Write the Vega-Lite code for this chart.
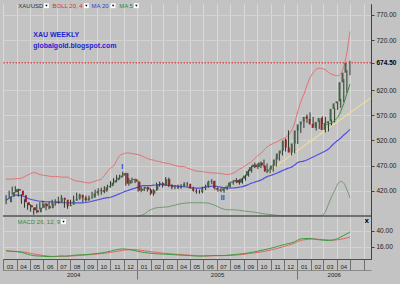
{
"$schema": "https://vega.github.io/schema/vega-lite/v6.json",
"width": 368, "height": 255,
"autosize": {"type": "none"},
"padding": {"left": 3, "top": 4, "right": 29, "bottom": 25},
"background": "#c3c3c3",
"config": {"view": {"stroke": null, "fill": "#c3c3c3"}, "axis": {"labelFont": "Liberation Sans", "labelColor": "#222"}, "text": {"font": "Liberation Sans"}},
"resolve": {"scale": {"x": "independent", "y": "independent"}, "axis": {"x": "independent", "y": "independent"}},
"data": {"values": [
{"d":"2004-03-08","o":397,"h":411,"l":393,"c":408,"ub":443,"ma":401,"m":9.8,"s":9.8},
{"d":"2004-03-15","o":408,"h":420,"l":405,"c":417,"ub":443,"ma":405,"m":9.2,"s":9.5},
{"d":"2004-03-22","o":417,"h":428,"l":412,"c":423,"ub":443,"ma":409,"m":8.8,"s":9.2},
{"d":"2004-03-29","o":423,"h":429,"l":416,"c":420,"ub":444,"ma":411,"m":8.5,"s":8.9},
{"d":"2004-04-05","o":420,"h":424,"l":408,"c":411,"ub":444,"ma":411,"m":8.0,"s":8.6},
{"d":"2004-04-12","o":411,"h":413,"l":394,"c":397,"ub":445,"ma":410,"m":7.3,"s":8.2},
{"d":"2004-04-19","o":397,"h":403,"l":386,"c":391,"ub":448,"ma":408,"m":6.0,"s":7.6},
{"d":"2004-04-26","o":391,"h":396,"l":382,"c":387,"ub":451,"ma":405,"m":4.5,"s":6.9},
{"d":"2004-05-03","o":387,"h":393,"l":378,"c":381,"ub":454,"ma":403,"m":3.2,"s":6.0},
{"d":"2004-05-10","o":381,"h":386,"l":372,"c":377,"ub":456,"ma":401.5,"m":2.4,"s":5.0},
{"d":"2004-05-17","o":377,"h":393,"l":375,"c":386,"ub":455,"ma":400,"m":2.0,"s":4.2},
{"d":"2004-05-24","o":386,"h":397,"l":383,"c":394,"ub":452,"ma":399,"m":1.8,"s":3.4},
{"d":"2004-05-31","o":394,"h":400,"l":385,"c":389,"ub":451,"ma":398.5,"m":1.4,"s":2.6},
{"d":"2004-06-07","o":389,"h":396,"l":381,"c":385,"ub":450,"ma":398,"m":1.1,"s":2.0},
{"d":"2004-06-14","o":385,"h":398,"l":383,"c":395,"ub":449,"ma":398,"m":1.0,"s":1.5},
{"d":"2004-06-21","o":395,"h":402,"l":391,"c":399,"ub":448,"ma":397.5,"m":1.0,"s":1.2},
{"d":"2004-06-28","o":399,"h":403,"l":390,"c":396,"ub":448,"ma":397,"m":1.3,"s":1.1},
{"d":"2004-07-05","o":396,"h":408,"l":394,"c":406,"ub":448,"ma":396.5,"m":1.6,"s":1.2},
{"d":"2004-07-12","o":406,"h":411,"l":398,"c":402,"ub":447,"ma":396,"m":1.9,"s":1.4},
{"d":"2004-07-19","o":402,"h":403,"l":386,"c":389,"ub":447,"ma":396,"m":1.6,"s":1.5},
{"d":"2004-07-26","o":389,"h":395,"l":384,"c":392,"ub":447,"ma":396,"m":1.8,"s":1.6},
{"d":"2004-08-02","o":392,"h":402,"l":390,"c":400,"ub":444,"ma":395.8,"m":2.3,"s":1.8},
{"d":"2004-08-09","o":400,"h":410,"l":394,"c":404,"ub":441,"ma":395.6,"m":2.8,"s":2.1},
{"d":"2004-08-16","o":404,"h":416,"l":401,"c":412,"ub":439,"ma":395.6,"m":3.3,"s":2.5},
{"d":"2004-08-23","o":412,"h":414,"l":402,"c":406,"ub":438.6,"ma":395.6,"m":3.5,"s":2.9},
{"d":"2004-08-30","o":406,"h":408,"l":397,"c":401,"ub":437.5,"ma":395.8,"m":3.7,"s":3.2},
{"d":"2004-09-06","o":401,"h":410,"l":398,"c":405,"ub":436,"ma":396.5,"m":4.0,"s":3.5},
{"d":"2004-09-13","o":405,"h":410,"l":400,"c":406,"ub":435.4,"ma":397.5,"m":4.3,"s":3.8},
{"d":"2004-09-20","o":406,"h":418,"l":404,"c":415,"ub":437,"ma":399,"m":4.8,"s":4.1},
{"d":"2004-09-27","o":415,"h":422,"l":408,"c":419,"ub":439,"ma":400.5,"m":5.3,"s":4.5},
{"d":"2004-10-04","o":419,"h":425,"l":410,"c":421,"ub":441,"ma":402,"m":5.9,"s":5.0},
{"d":"2004-10-11","o":421,"h":426,"l":412,"c":418,"ub":443,"ma":403.5,"m":6.4,"s":5.5},
{"d":"2004-10-18","o":418,"h":429,"l":415,"c":427,"ub":450,"ma":405,"m":7.2,"s":6.0},
{"d":"2004-10-25","o":427,"h":432,"l":421,"c":429,"ub":458,"ma":406,"m":8.2,"s":6.6},
{"d":"2004-11-01","o":429,"h":439,"l":426,"c":436,"ub":465,"ma":407,"m":9.3,"s":7.3},
{"d":"2004-11-08","o":436,"h":445,"l":432,"c":441,"ub":469,"ma":409,"m":10.3,"s":8.0},
{"d":"2004-11-15","o":441,"h":451,"l":437,"c":446,"ub":480,"ma":411.5,"m":11.3,"s":8.8},
{"d":"2004-11-22","o":446,"h":452,"l":443,"c":450,"ub":490,"ma":414,"m":12.1,"s":9.6},
{"d":"2004-11-29","o":450,"h":458,"l":447,"c":455,"ub":493,"ma":416.5,"m":12.6,"s":10.4},
{"d":"2004-12-06","o":455,"h":456,"l":430,"c":434,"ub":495,"ma":419,"m":12.2,"s":11.0},
{"d":"2004-12-13","o":434,"h":445,"l":430,"c":441,"ub":495,"ma":421,"m":11.7,"s":11.4},
{"d":"2004-12-20","o":441,"h":446,"l":435,"c":443,"ub":494,"ma":423,"m":10.8,"s":11.5},
{"d":"2004-12-27","o":443,"h":444,"l":435,"c":438,"ub":493,"ma":425,"m":10.0,"s":11.3},
{"d":"2005-01-03","o":438,"h":440,"l":418,"c":420,"ub":492,"ma":427,"m":8.8,"s":11.0,"ind":369},
{"d":"2005-01-10","o":420,"h":428,"l":417,"c":424,"ub":490,"ma":429.5,"m":7.9,"s":10.4,"ind":371},
{"d":"2005-01-17","o":424,"h":428,"l":419,"c":427,"ub":487,"ma":430,"m":7.2,"s":9.7,"ind":373},
{"d":"2005-01-24","o":427,"h":428,"l":418,"c":422,"ub":484,"ma":430,"m":6.6,"s":9.1,"ind":378},
{"d":"2005-01-31","o":422,"h":425,"l":411,"c":414,"ub":482,"ma":430,"m":6.0,"s":8.4,"ind":382},
{"d":"2005-02-07","o":414,"h":423,"l":410,"c":421,"ub":481,"ma":431,"m":5.6,"s":7.9,"ind":384},
{"d":"2005-02-14","o":421,"h":436,"l":420,"c":433,"ub":479,"ma":431.5,"m":5.2,"s":7.4,"ind":386},
{"d":"2005-02-21","o":433,"h":438,"l":428,"c":435,"ub":478,"ma":432,"m":4.9,"s":6.8,"ind":386.5},
{"d":"2005-02-28","o":435,"h":437,"l":426,"c":431,"ub":476,"ma":432,"m":4.7,"s":6.2,"ind":387},
{"d":"2005-03-07","o":431,"h":447,"l":430,"c":443,"ub":475,"ma":431,"m":4.6,"s":5.8,"ind":387.5},
{"d":"2005-03-14","o":443,"h":446,"l":427,"c":430,"ub":474,"ma":430.5,"m":4.3,"s":5.4,"ind":388},
{"d":"2005-03-21","o":430,"h":433,"l":423,"c":427,"ub":472,"ma":430,"m":4.0,"s":5.0,"ind":390},
{"d":"2005-03-28","o":427,"h":431,"l":423,"c":428,"ub":470,"ma":429.5,"m":3.7,"s":4.7,"ind":391},
{"d":"2005-04-04","o":428,"h":432,"l":423,"c":426,"ub":469,"ma":429,"m":3.4,"s":4.3,"ind":393},
{"d":"2005-04-11","o":426,"h":433,"l":424,"c":429,"ub":468,"ma":428.5,"m":3.2,"s":3.9,"ind":394},
{"d":"2005-04-18","o":429,"h":437,"l":428,"c":434,"ub":468,"ma":428,"m":3.0,"s":3.6,"ind":395},
{"d":"2005-04-25","o":434,"h":437,"l":428,"c":433,"ub":465,"ma":427,"m":2.7,"s":3.3,"ind":395.5},
{"d":"2005-05-02","o":433,"h":434,"l":424,"c":425,"ub":463,"ma":426,"m":2.4,"s":3.0,"ind":396},
{"d":"2005-05-09","o":425,"h":428,"l":418,"c":420,"ub":461,"ma":425.5,"m":2.0,"s":2.7,"ind":396},
{"d":"2005-05-16","o":420,"h":424,"l":414,"c":418,"ub":459,"ma":425,"m":1.8,"s":2.4,"ind":396},
{"d":"2005-05-23","o":418,"h":422,"l":414,"c":417,"ub":458.5,"ma":425,"m":1.7,"s":2.1,"ind":396},
{"d":"2005-05-30","o":417,"h":428,"l":415,"c":425,"ub":458,"ma":426,"m":1.8,"s":2.0,"ind":396},
{"d":"2005-06-06","o":425,"h":432,"l":421,"c":428,"ub":457,"ma":427,"m":2.0,"s":1.9,"ind":395.5},
{"d":"2005-06-13","o":428,"h":440,"l":426,"c":438,"ub":456,"ma":428,"m":2.3,"s":2.0,"ind":395},
{"d":"2005-06-20","o":438,"h":443,"l":433,"c":439,"ub":455.5,"ma":429,"m":2.6,"s":2.1,"ind":393},
{"d":"2005-06-27","o":439,"h":440,"l":422,"c":425,"ub":455,"ma":429,"m":2.6,"s":2.3,"ind":391},
{"d":"2005-07-04","o":425,"h":427,"l":418,"c":422,"ub":455,"ma":428,"m":2.5,"s":2.4,"ind":388},
{"d":"2005-07-11","o":422,"h":426,"l":417,"c":420,"ub":454,"ma":427,"m":2.5,"s":2.4,"ind":385},
{"d":"2005-07-18","o":420,"h":426,"l":416,"c":424,"ub":453,"ma":426,"m":2.6,"s":2.5,"ind":383},
{"d":"2005-07-25","o":424,"h":430,"l":421,"c":428,"ub":452,"ma":425.5,"m":2.9,"s":2.6,"ind":382},
{"d":"2005-08-01","o":428,"h":438,"l":426,"c":436,"ub":453,"ma":425,"m":3.3,"s":2.8,"ind":382},
{"d":"2005-08-08","o":436,"h":441,"l":432,"c":438,"ub":455,"ma":425.5,"m":3.8,"s":3.0,"ind":382},
{"d":"2005-08-15","o":438,"h":445,"l":435,"c":441,"ub":458,"ma":426,"m":4.3,"s":3.3,"ind":381.5},
{"d":"2005-08-22","o":441,"h":443,"l":432,"c":436,"ub":463,"ma":427,"m":4.8,"s":3.7,"ind":381},
{"d":"2005-08-29","o":436,"h":446,"l":434,"c":444,"ub":466,"ma":428,"m":5.3,"s":4.1,"ind":380},
{"d":"2005-09-05","o":444,"h":452,"l":440,"c":450,"ub":470,"ma":430,"m":5.9,"s":4.6,"ind":379},
{"d":"2005-09-12","o":450,"h":462,"l":448,"c":459,"ub":474,"ma":432.5,"m":6.6,"s":5.5,"ind":378.5},
{"d":"2005-09-19","o":459,"h":470,"l":456,"c":467,"ub":478,"ma":435,"m":7.4,"s":6.0,"ind":378},
{"d":"2005-09-26","o":467,"h":476,"l":465,"c":472,"ub":484,"ma":437,"m":8.2,"s":6.6,"ind":377},
{"d":"2005-10-03","o":472,"h":474,"l":463,"c":467,"ub":490,"ma":439,"m":9.2,"s":7.2,"ind":376},
{"d":"2005-10-10","o":467,"h":478,"l":465,"c":476,"ub":494,"ma":441,"m":10.2,"s":8.0,"ind":375},
{"d":"2005-10-17","o":476,"h":482,"l":466,"c":470,"ub":501,"ma":444.5,"m":11.2,"s":8.8,"ind":374},
{"d":"2005-10-24","o":470,"h":474,"l":455,"c":458,"ub":507,"ma":448,"m":12.2,"s":9.7,"ind":373},
{"d":"2005-10-31","o":458,"h":466,"l":455,"c":462,"ub":511,"ma":450,"m":13.3,"s":10.6,"ind":372.5},
{"d":"2005-11-07","o":462,"h":472,"l":458,"c":470,"ub":514,"ma":452,"m":14.5,"s":11.7,"ind":372},
{"d":"2005-11-14","o":470,"h":486,"l":468,"c":482,"ub":517,"ma":454.5,"m":15.7,"s":12.9,"ind":371},
{"d":"2005-11-21","o":482,"h":498,"l":480,"c":494,"ub":520,"ma":457,"m":17.2,"s":14.2,"ind":370.5},
{"d":"2005-11-28","o":494,"h":504,"l":490,"c":500,"ub":523,"ma":460,"m":18.5,"s":15.6,"ind":370},
{"d":"2005-12-05","o":500,"h":524,"l":498,"c":520,"ub":526,"ma":462.5,"m":19.6,"s":16.9,"ind":370},
{"d":"2005-12-12","o":522,"h":540,"l":502,"c":506,"ub":531,"ma":465,"m":20.7,"s":18.3,"ind":370},
{"d":"2005-12-19","o":506,"h":508,"l":490,"c":496,"ub":540,"ma":467,"m":21.7,"s":19.7,"ind":370},
{"d":"2005-12-26","o":496,"h":518,"l":494,"c":514,"ub":555,"ma":471,"m":23.5,"s":21.3,"ind":370},
{"d":"2006-01-02","o":514,"h":542,"l":513,"c":540,"ub":578,"ma":476,"m":26.0,"s":23.8,"ind":370},
{"d":"2006-01-09","o":540,"h":555,"l":535,"c":552,"ub":597,"ma":478,"m":27.7,"s":25.4,"ind":370},
{"d":"2006-01-16","o":552,"h":562,"l":545,"c":558,"ub":612,"ma":479,"m":28.2,"s":26.4,"ind":370},
{"d":"2006-01-23","o":558,"h":572,"l":555,"c":567,"ub":630,"ma":481,"m":28.4,"s":27.0,"ind":370},
{"d":"2006-01-30","o":568,"h":576,"l":559,"c":563,"ub":645,"ma":484,"m":28.3,"s":27.5,"ind":370},
{"d":"2006-02-06","o":563,"h":567,"l":548,"c":552,"ub":655,"ma":487,"m":27.8,"s":27.6,"ind":370},
{"d":"2006-02-13","o":553,"h":556,"l":540,"c":545,"ub":662,"ma":490,"m":27.0,"s":27.4,"ind":370},
{"d":"2006-02-20","o":545,"h":560,"l":543,"c":557,"ub":664,"ma":493,"m":26.4,"s":27.1,"ind":370},
{"d":"2006-02-27","o":557,"h":568,"l":553,"c":565,"ub":663,"ma":496,"m":25.9,"s":26.8,"ind":371},
{"d":"2006-03-06","o":565,"h":567,"l":536,"c":541,"ub":661,"ma":499,"m":25.5,"s":26.5,"ind":378,"ma5":552},
{"d":"2006-03-13","o":541,"h":558,"l":538,"c":555,"ub":656,"ma":503,"m":25.3,"s":26.2,"ind":393,"ma5":553},
{"d":"2006-03-20","o":555,"h":562,"l":550,"c":558,"ub":652,"ma":509,"m":25.6,"s":26.0,"ind":408,"ma5":555},
{"d":"2006-03-27","o":558,"h":585,"l":556,"c":583,"ub":650,"ma":515,"m":26.6,"s":26.0,"ind":420,"ma5":560},
{"d":"2006-04-03","o":583,"h":597,"l":581,"c":594,"ub":649,"ma":520,"m":28.3,"s":26.4,"ind":433,"ma5":566},
{"d":"2006-04-10","o":594,"h":603,"l":585,"c":598,"ub":652,"ma":525,"m":30.6,"s":27.2,"ind":438.6,"ma5":578},
{"d":"2006-04-17","o":598,"h":642,"l":596,"c":636,"ub":668,"ma":531,"m":33.0,"s":28.1,"ind":435,"ma5":594},
{"d":"2006-04-24","o":636,"h":660,"l":615,"c":655,"ub":695,"ma":536,"m":35.6,"s":29.3,"ind":422,"ma5":613},
{"d":"2006-05-01","o":655,"h":679,"l":650,"c":674.5,"ub":737,"ma":542,"m":38.2,"s":30.6,"ind":406,"ma5":632}
]},
"layer": [
{"mark": {"type": "line", "color": "#6f9a6f", "strokeWidth": 1, "clip": true, "interpolate": "monotone"},
 "encoding": {"x": {"field": "d", "type": "temporal", "scale": {"type": "utc", "domain": [{"year": 2004, "month": 3, "date": 1, "utc": true}, {"year": 2006, "month": 6, "date": 18, "utc": true}], "nice": false}, "axis": null},
  "y": {"field": "ind", "type": "quantitative", "scale": {"domain": [283.9, 791.9], "nice": false, "zero": false}, "axis": null}}},
{"data": {"values": [{"d": "2005-10-24", "p": 456}, {"d": "2006-06-18", "p": 605}]},
 "mark": {"type": "line", "color": "#e8de98", "strokeWidth": 1.2, "clip": true},
 "encoding": {"x": {"field": "d", "type": "temporal", "scale": {"type": "utc", "domain": [{"year": 2004, "month": 3, "date": 1, "utc": true}, {"year": 2006, "month": 6, "date": 18, "utc": true}], "nice": false},
   "axis": {"orient": "bottom", "offset": 11, "title": null, "values": [{"year": 2004, "month": 8, "date": 8, "utc": true}, {"year": 2005, "month": 1, "date": 1, "utc": true}, {"year": 2005, "month": 7, "date": 2, "utc": true}, {"year": 2006, "month": 1, "date": 1, "utc": true}, {"year": 2006, "month": 3, "date": 25, "utc": true}],
    "labelExpr": "utcmonth(datum.value) == 0 ? '' : utcFormat(datum.value, '%Y')", "labelPadding": -8, "labelFontSize": 6, "labelBaseline": "top", "tickSize": 9, "tickColor": "#707070",
    "tickOpacity": {"condition": {"test": "utcmonth(datum.value) == 0", "value": 1}, "value": 0}, "domainColor": "#8a8a8a", "grid": false, "labelOverlap": false, "labelBound": false, "labelFlush": false}},
  "y": {"field": "p", "type": "quantitative", "scale": {"domain": [283.9, 791.9], "nice": false, "zero": false}, "axis": null}}},
{"mark": {"type": "line", "color": "#e27272", "strokeWidth": 1, "clip": true, "interpolate": "monotone"},
 "encoding": {"x": {"field": "d", "type": "temporal", "scale": {"type": "utc", "domain": [{"year": 2004, "month": 3, "date": 1, "utc": true}, {"year": 2006, "month": 6, "date": 18, "utc": true}], "nice": false}, "axis": null},
  "y": {"field": "ub", "type": "quantitative", "scale": {"domain": [283.9, 791.9], "nice": false, "zero": false}, "axis": null}}},
{"mark": {"type": "line", "color": "#5252e0", "strokeWidth": 1.2, "clip": true, "interpolate": "monotone"},
 "encoding": {"x": {"field": "d", "type": "temporal", "scale": {"type": "utc", "domain": [{"year": 2004, "month": 3, "date": 1, "utc": true}, {"year": 2006, "month": 6, "date": 18, "utc": true}], "nice": false}, "axis": null},
  "y": {"field": "ma", "type": "quantitative", "scale": {"domain": [283.9, 791.9], "nice": false, "zero": false}, "axis": null}}},
{"mark": {"type": "rule", "color": "#2c382c", "strokeWidth": 1, "clip": true},
 "encoding": {"x": {"field": "d", "type": "temporal", "scale": {"type": "utc", "domain": [{"year": 2004, "month": 3, "date": 1, "utc": true}, {"year": 2006, "month": 6, "date": 18, "utc": true}], "nice": false},
   "axis": {"orient": "bottom", "title": null, "tickCount": {"interval": "month", "step": 1}, "labelExpr": "datum.value >= utc(2006,4,1) ? '' : utcFormat(datum.value, '%m')", "labelAlign": "center", "labelBaseline": "top", "labelOffset": 6.5, "labelPadding": -7, "labelFontSize": 6, "labelOverlap": false, "labelFlush": false, "labelBound": false, "tickSize": 11, "tickColor": "#707070", "domainColor": "#505050", "grid": true, "gridColor": "#d9d9d9", "gridWidth": 1}},
  "y": {"field": "l", "type": "quantitative", "scale": {"domain": [283.9, 791.9], "nice": false, "zero": false},
   "axis": {"orient": "right", "title": null, "values": [420, 470, 520, 570, 620, 674.5, 720, 770], "format": ".2f", "tickSize": 3, "labelPadding": 2, "labelFontSize": 6.5, "labelBaseline": "middle",
    "labelColor": {"condition": {"test": "datum.value == 674.5", "value": "#000000"}, "value": "#222222"},
    "labelFontWeight": {"condition": {"test": "datum.value == 674.5", "value": "bold"}, "value": "normal"},
    "tickColor": "#444444", "domainColor": "#404040", "grid": true, "gridColor": "#d3d3d3"}},
  "y2": {"field": "h"}}},
{"mark": {"type": "bar", "size": 2, "clip": true},
 "encoding": {"x": {"field": "d", "type": "temporal", "scale": {"type": "utc", "domain": [{"year": 2004, "month": 3, "date": 1, "utc": true}, {"year": 2006, "month": 6, "date": 18, "utc": true}], "nice": false}, "axis": null},
  "y": {"field": "o", "type": "quantitative", "scale": {"domain": [283.9, 791.9], "nice": false, "zero": false}, "axis": null},
  "y2": {"field": "c"},
  "color": {"condition": {"test": "datum.c >= datum.o", "value": "#46634a"}, "value": "#8e2424"}}},
{"mark": {"type": "line", "color": "#2f8f2f", "strokeWidth": 1, "clip": true, "interpolate": "monotone"},
 "encoding": {"x": {"field": "d", "type": "temporal", "scale": {"type": "utc", "domain": [{"year": 2004, "month": 3, "date": 1, "utc": true}, {"year": 2006, "month": 6, "date": 18, "utc": true}], "nice": false}, "axis": null},
  "y": {"field": "ma5", "type": "quantitative", "scale": {"domain": [283.9, 791.9], "nice": false, "zero": false}, "axis": null}}},
{"data": {"values": [{}]},
 "mark": {"type": "rule", "color": "#e03030", "strokeDash": [1.5, 1.5], "strokeWidth": 1.2},
 "encoding": {"y": {"datum": 674.5, "type": "quantitative", "scale": {"domain": [283.9, 791.9], "nice": false, "zero": false}, "axis": null}}},
{"data": {"values": [{}]},
 "mark": {"type": "rule", "color": "#555555", "strokeWidth": 1.5},
 "encoding": {"y": {"datum": 369.6, "type": "quantitative", "scale": {"domain": [283.9, 791.9], "nice": false, "zero": false}, "axis": null}}},
{"mark": {"type": "line", "color": "#e26464", "strokeWidth": 1, "clip": true, "interpolate": "monotone"},
 "encoding": {"x": {"field": "d", "type": "temporal", "scale": {"type": "utc", "domain": [{"year": 2004, "month": 3, "date": 1, "utc": true}, {"year": 2006, "month": 6, "date": 18, "utc": true}], "nice": false}, "axis": null},
  "y": {"field": "s", "type": "quantitative", "scale": {"domain": [-2.7, 383.6], "nice": false, "zero": false},
   "axis": {"orient": "right", "title": null, "values": [16, 40], "format": ".2f", "tickSize": 3, "labelPadding": 2, "labelFontSize": 6.5, "labelBaseline": "middle", "tickColor": "#444444", "domainColor": "#404040", "grid": true, "gridColor": "#d3d3d3"}}}},
{"mark": {"type": "line", "color": "#3f9a3f", "strokeWidth": 1, "clip": true, "interpolate": "monotone"},
 "encoding": {"x": {"field": "d", "type": "temporal", "scale": {"type": "utc", "domain": [{"year": 2004, "month": 3, "date": 1, "utc": true}, {"year": 2006, "month": 6, "date": 18, "utc": true}], "nice": false}, "axis": null},
  "y": {"field": "m", "type": "quantitative", "scale": {"domain": [-2.7, 383.6], "nice": false, "zero": false}, "axis": null}}},
{"data": {"values": [{}]},
 "mark": {"type": "text", "align": "left", "baseline": "middle", "fontSize": 6, "color": "#333333", "text": "XAUUSD"},
 "encoding": {"x": {"datum": {"year": 2004, "month": 4, "date": 5, "utc": true}, "type": "temporal", "scale": {"type": "utc", "domain": [{"year": 2004, "month": 3, "date": 1, "utc": true}, {"year": 2006, "month": 6, "date": 18, "utc": true}], "nice": false}, "axis": null},
  "y": {"datum": 788.5, "type": "quantitative", "scale": {"domain": [283.9, 791.9], "nice": false, "zero": false}, "axis": null}}},
{"data": {"values": [{}]},
 "mark": {"type": "text", "align": "left", "baseline": "middle", "fontSize": 6, "color": "#d83030", "text": "BOLL 20, 4"},
 "encoding": {"x": {"datum": {"year": 2004, "month": 6, "date": 22, "utc": true}, "type": "temporal", "scale": {"type": "utc", "domain": [{"year": 2004, "month": 3, "date": 1, "utc": true}, {"year": 2006, "month": 6, "date": 18, "utc": true}], "nice": false}, "axis": null},
  "y": {"datum": 788.5, "type": "quantitative", "scale": {"domain": [283.9, 791.9], "nice": false, "zero": false}, "axis": null}}},
{"data": {"values": [{}]},
 "mark": {"type": "text", "align": "left", "baseline": "middle", "fontSize": 6, "color": "#3a3ad0", "text": "MA 20"},
 "encoding": {"x": {"datum": {"year": 2004, "month": 9, "date": 19, "utc": true}, "type": "temporal", "scale": {"type": "utc", "domain": [{"year": 2004, "month": 3, "date": 1, "utc": true}, {"year": 2006, "month": 6, "date": 18, "utc": true}], "nice": false}, "axis": null},
  "y": {"datum": 788.5, "type": "quantitative", "scale": {"domain": [283.9, 791.9], "nice": false, "zero": false}, "axis": null}}},
{"data": {"values": [{}]},
 "mark": {"type": "text", "align": "left", "baseline": "middle", "fontSize": 6, "color": "#2a8a2a", "text": "MA 5"},
 "encoding": {"x": {"datum": {"year": 2004, "month": 11, "date": 21, "utc": true}, "type": "temporal", "scale": {"type": "utc", "domain": [{"year": 2004, "month": 3, "date": 1, "utc": true}, {"year": 2006, "month": 6, "date": 18, "utc": true}], "nice": false}, "axis": null},
  "y": {"datum": 788.5, "type": "quantitative", "scale": {"domain": [283.9, 791.9], "nice": false, "zero": false}, "axis": null}}},
{"data": {"values": [{}]},
 "mark": {"type": "text", "align": "left", "baseline": "middle", "fontSize": 7, "fontWeight": "bold", "color": "#2424d4", "text": "XAU WEEKLY"},
 "encoding": {"x": {"datum": {"year": 2004, "month": 5, "date": 9, "utc": true}, "type": "temporal", "scale": {"type": "utc", "domain": [{"year": 2004, "month": 3, "date": 1, "utc": true}, {"year": 2006, "month": 6, "date": 18, "utc": true}], "nice": false}, "axis": null},
  "y": {"datum": 730.2, "type": "quantitative", "scale": {"domain": [283.9, 791.9], "nice": false, "zero": false}, "axis": null}}},
{"data": {"values": [{}]},
 "mark": {"type": "text", "align": "left", "baseline": "middle", "fontSize": 7, "fontWeight": "bold", "color": "#2424d4", "text": "globalgold.blogspot.com"},
 "encoding": {"x": {"datum": {"year": 2004, "month": 5, "date": 9, "utc": true}, "type": "temporal", "scale": {"type": "utc", "domain": [{"year": 2004, "month": 3, "date": 1, "utc": true}, {"year": 2006, "month": 6, "date": 18, "utc": true}], "nice": false}, "axis": null},
  "y": {"datum": 707.6, "type": "quantitative", "scale": {"domain": [283.9, 791.9], "nice": false, "zero": false}, "axis": null}}},
{"data": {"values": [{}]},
 "mark": {"type": "text", "align": "center", "baseline": "middle", "fontSize": 7, "fontWeight": "bold", "color": "#3434e0", "text": "I"},
 "encoding": {"x": {"datum": {"year": 2004, "month": 11, "date": 28, "utc": true}, "type": "temporal", "scale": {"type": "utc", "domain": [{"year": 2004, "month": 3, "date": 1, "utc": true}, {"year": 2006, "month": 6, "date": 18, "utc": true}], "nice": false}, "axis": null},
  "y": {"datum": 467.2, "type": "quantitative", "scale": {"domain": [283.9, 791.9], "nice": false, "zero": false}, "axis": null}}},
{"data": {"values": [{}]},
 "mark": {"type": "text", "align": "center", "baseline": "middle", "fontSize": 7, "fontWeight": "bold", "color": "#3434e0", "text": "II"},
 "encoding": {"x": {"datum": {"year": 2005, "month": 7, "date": 15, "utc": true}, "type": "temporal", "scale": {"type": "utc", "domain": [{"year": 2004, "month": 3, "date": 1, "utc": true}, {"year": 2006, "month": 6, "date": 18, "utc": true}], "nice": false}, "axis": null},
  "y": {"datum": 405.5, "type": "quantitative", "scale": {"domain": [283.9, 791.9], "nice": false, "zero": false}, "axis": null}}},
{"data": {"values": [{}]},
 "mark": {"type": "text", "align": "left", "baseline": "middle", "fontSize": 6, "color": "#3a8a3a", "text": "MACD 26, 12, 9"},
 "encoding": {"x": {"datum": {"year": 2004, "month": 4, "date": 3, "utc": true}, "type": "temporal", "scale": {"type": "utc", "domain": [{"year": 2004, "month": 3, "date": 1, "utc": true}, {"year": 2006, "month": 6, "date": 18, "utc": true}], "nice": false}, "axis": null},
  "y": {"datum": 53.8, "type": "quantitative", "scale": {"domain": [-2.7, 383.6], "nice": false, "zero": false}, "axis": null}}},
{"data": {"values": [{}]},
 "mark": {"type": "text", "align": "center", "baseline": "middle", "fontSize": 8, "fontWeight": "bold", "color": "#000000", "text": "x"},
 "encoding": {"x": {"datum": {"year": 2006, "month": 6, "date": 8, "utc": true}, "type": "temporal", "scale": {"type": "utc", "domain": [{"year": 2004, "month": 3, "date": 1, "utc": true}, {"year": 2006, "month": 6, "date": 18, "utc": true}], "nice": false}, "axis": null},
  "y": {"datum": 55.2, "type": "quantitative", "scale": {"domain": [-2.7, 383.6], "nice": false, "zero": false}, "axis": null}}},
{"data": {"values": [{}]},
 "mark": {"type": "square", "size": 24, "filled": true, "color": "#ffffff", "opacity": 1},
 "encoding": {"x": {"datum": {"year": 2004, "month": 6, "date": 8, "utc": true}, "type": "temporal", "scale": {"type": "utc", "domain": [{"year": 2004, "month": 3, "date": 1, "utc": true}, {"year": 2006, "month": 6, "date": 18, "utc": true}], "nice": false}, "axis": null},
  "y": {"datum": 788.5, "type": "quantitative", "scale": {"domain": [283.9, 791.9], "nice": false, "zero": false}, "axis": null}}},
{"data": {"values": [{}]},
 "mark": {"type": "square", "size": 24, "filled": true, "color": "#ffffff", "opacity": 1},
 "encoding": {"x": {"datum": {"year": 2004, "month": 9, "date": 7, "utc": true}, "type": "temporal", "scale": {"type": "utc", "domain": [{"year": 2004, "month": 3, "date": 1, "utc": true}, {"year": 2006, "month": 6, "date": 18, "utc": true}], "nice": false}, "axis": null},
  "y": {"datum": 788.5, "type": "quantitative", "scale": {"domain": [283.9, 791.9], "nice": false, "zero": false}, "axis": null}}},
{"data": {"values": [{}]},
 "mark": {"type": "square", "size": 24, "filled": true, "color": "#ffffff", "opacity": 1},
 "encoding": {"x": {"datum": {"year": 2004, "month": 11, "date": 7, "utc": true}, "type": "temporal", "scale": {"type": "utc", "domain": [{"year": 2004, "month": 3, "date": 1, "utc": true}, {"year": 2006, "month": 6, "date": 18, "utc": true}], "nice": false}, "axis": null},
  "y": {"datum": 788.5, "type": "quantitative", "scale": {"domain": [283.9, 791.9], "nice": false, "zero": false}, "axis": null}}},
{"data": {"values": [{}]},
 "mark": {"type": "square", "size": 24, "filled": true, "color": "#ffffff", "opacity": 1},
 "encoding": {"x": {"datum": {"year": 2004, "month": 12, "date": 30, "utc": true}, "type": "temporal", "scale": {"type": "utc", "domain": [{"year": 2004, "month": 3, "date": 1, "utc": true}, {"year": 2006, "month": 6, "date": 18, "utc": true}], "nice": false}, "axis": null},
  "y": {"datum": 788.5, "type": "quantitative", "scale": {"domain": [283.9, 791.9], "nice": false, "zero": false}, "axis": null}}},
{"data": {"values": [{}]},
 "mark": {"type": "square", "size": 24, "filled": true, "color": "#ffffff", "opacity": 1},
 "encoding": {"x": {"datum": {"year": 2004, "month": 7, "date": 17, "utc": true}, "type": "temporal", "scale": {"type": "utc", "domain": [{"year": 2004, "month": 3, "date": 1, "utc": true}, {"year": 2006, "month": 6, "date": 18, "utc": true}], "nice": false}, "axis": null},
  "y": {"datum": 53.8, "type": "quantitative", "scale": {"domain": [-2.7, 383.6], "nice": false, "zero": false}, "axis": null}}},
{"data": {"values": [{}]},
 "mark": {"type": "point", "shape": "triangle-down", "size": 6, "filled": true, "color": "#000000", "opacity": 1},
 "encoding": {"x": {"datum": {"year": 2004, "month": 6, "date": 8, "utc": true}, "type": "temporal", "scale": {"type": "utc", "domain": [{"year": 2004, "month": 3, "date": 1, "utc": true}, {"year": 2006, "month": 6, "date": 18, "utc": true}], "nice": false}, "axis": null},
  "y": {"datum": 788.5, "type": "quantitative", "scale": {"domain": [283.9, 791.9], "nice": false, "zero": false}, "axis": null}}},
{"data": {"values": [{}]},
 "mark": {"type": "point", "shape": "triangle-down", "size": 6, "filled": true, "color": "#000000", "opacity": 1},
 "encoding": {"x": {"datum": {"year": 2004, "month": 9, "date": 7, "utc": true}, "type": "temporal", "scale": {"type": "utc", "domain": [{"year": 2004, "month": 3, "date": 1, "utc": true}, {"year": 2006, "month": 6, "date": 18, "utc": true}], "nice": false}, "axis": null},
  "y": {"datum": 788.5, "type": "quantitative", "scale": {"domain": [283.9, 791.9], "nice": false, "zero": false}, "axis": null}}},
{"data": {"values": [{}]},
 "mark": {"type": "point", "shape": "triangle-down", "size": 6, "filled": true, "color": "#000000", "opacity": 1},
 "encoding": {"x": {"datum": {"year": 2004, "month": 11, "date": 7, "utc": true}, "type": "temporal", "scale": {"type": "utc", "domain": [{"year": 2004, "month": 3, "date": 1, "utc": true}, {"year": 2006, "month": 6, "date": 18, "utc": true}], "nice": false}, "axis": null},
  "y": {"datum": 788.5, "type": "quantitative", "scale": {"domain": [283.9, 791.9], "nice": false, "zero": false}, "axis": null}}},
{"data": {"values": [{}]},
 "mark": {"type": "point", "shape": "triangle-down", "size": 6, "filled": true, "color": "#000000", "opacity": 1},
 "encoding": {"x": {"datum": {"year": 2004, "month": 12, "date": 30, "utc": true}, "type": "temporal", "scale": {"type": "utc", "domain": [{"year": 2004, "month": 3, "date": 1, "utc": true}, {"year": 2006, "month": 6, "date": 18, "utc": true}], "nice": false}, "axis": null},
  "y": {"datum": 788.5, "type": "quantitative", "scale": {"domain": [283.9, 791.9], "nice": false, "zero": false}, "axis": null}}},
{"data": {"values": [{}]},
 "mark": {"type": "point", "shape": "triangle-down", "size": 6, "filled": true, "color": "#000000", "opacity": 1},
 "encoding": {"x": {"datum": {"year": 2004, "month": 7, "date": 17, "utc": true}, "type": "temporal", "scale": {"type": "utc", "domain": [{"year": 2004, "month": 3, "date": 1, "utc": true}, {"year": 2006, "month": 6, "date": 18, "utc": true}], "nice": false}, "axis": null},
  "y": {"datum": 53.8, "type": "quantitative", "scale": {"domain": [-2.7, 383.6], "nice": false, "zero": false}, "axis": null}}}
]
}
